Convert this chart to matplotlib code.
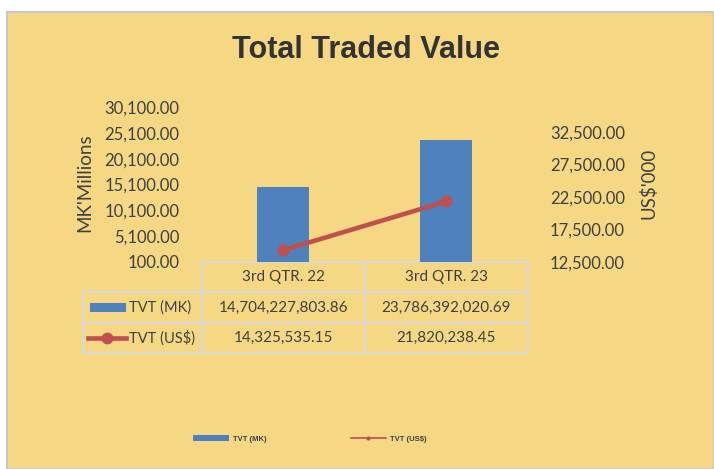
import matplotlib as mpl
mpl.use('Agg')
import matplotlib.pyplot as plt
from matplotlib.patches import Rectangle, Patch
from matplotlib.lines import Line2D

# data
quarters = ['3rd QTR. 22', '3rd QTR. 23']
tvt_mk = [14704227803.86, 23786392020.69]   # MK
tvt_usd = [14325535.15, 21820238.45]         # US$
series_names = ['TVT (MK)', 'TVT (US$)']

mk_millions = [v / 1e6 for v in tvt_mk]
usd_thousands = [v / 1e3 for v in tvt_usd]

left_ticks = [100, 5100, 10100, 15100, 20100, 25100, 30100]
right_ticks = [12500, 17500, 22500, 27500, 32500]

blue = '#4F81BD'
red = '#C0504D'
bg = '#F5D784'
txt = '#404040'
grid = '#D9D9D9'

plt.rcParams['font.family'] = ['Lato', 'DejaVu Sans']

W, H = 714, 469
fig = plt.figure(figsize=(W / 100, H / 100), dpi=100)
fig.patch.set_facecolor('white')

# chart area panel
fig.patches.append(Rectangle((7 / W, 0), 1 - 7 / W, 1 - 12 / H, transform=fig.transFigure,
                             facecolor=bg, edgecolor='#C8C8C8', linewidth=1.5, zorder=-5))

# plot area in pixels
x0, x1, ytop, ybot = 201.7, 527.7, 107, 262
ax = fig.add_axes([x0 / W, 1 - ybot / H, (x1 - x0) / W, (ybot - ytop) / H])
ax.patch.set_alpha(0)

xs = list(range(len(quarters)))
ax.bar(xs, mk_millions, width=0.32, color=blue, zorder=2)
ax.set_xlim(-0.5, len(quarters) - 0.5)
ax.set_ylim(left_ticks[0], left_ticks[-1])
ax.set_yticks(left_ticks)
ax.set_yticklabels(['{:,.2f}'.format(t) for t in left_ticks])
ax.set_xticks([])
ax.tick_params(axis='y', length=0, pad=16, labelsize=12, labelcolor=txt)
for s in ax.spines.values():
    s.set_visible(False)

ax2 = ax.twinx()
ax2.plot(xs, usd_thousands, color=red, linewidth=3.3, marker='o', markersize=7.5, zorder=3)
ax2.set_ylim(12500, 12500 + (ybot - ytop) / 0.0065)
ax2.set_yticks(right_ticks)
ax2.set_yticklabels(['{:,.2f}'.format(t) for t in right_ticks])
ax2.tick_params(axis='y', length=0, pad=16, labelsize=12, labelcolor=txt)
for s in ax2.spines.values():
    s.set_visible(False)

# data table under the plot
cell_text = [[series_names[0]] + ['{:,.2f}'.format(v) for v in tvt_mk],
             [series_names[1]] + ['{:,.2f}'.format(v) for v in tvt_usd]]
tl = 83.3
tbot = 353
lab_w = (x0 - tl) / (x1 - x0)
tbl = ax.table(cellText=cell_text, colLabels=[''] + quarters,
               colWidths=[lab_w, 0.5, 0.5], cellLoc='center',
               bbox=[(tl - x0) / (x1 - x0), -(tbot - ybot) / (ybot - ytop),
                     (x1 - tl) / (x1 - x0), (tbot - ybot) / (ybot - ytop)])
tbl.auto_set_font_size(False)
for (r, c), cell in tbl.get_celld().items():
    cell.set_facecolor('none')
    cell.set_edgecolor(grid)
    cell.set_linewidth(1.5)
    cell.get_text().set_fontsize(11)
    cell.get_text().set_color(txt)
    if c == 0:
        cell.get_text().set_horizontalalignment('left')
        cell.get_text().set_fontsize(10.5)
        cell.PAD = (129 - tl) / (x0 - tl)
        if r == 0:
            cell.visible_edges = ''

# legend keys inside the table row labels
def fx(px):
    return (px - x0) / (x1 - x0)

def fy(py):
    return (ybot - py) / (ybot - ytop)

ax.add_patch(Rectangle((fx(90), fy(312)), fx(126) - fx(90), fy(303) - fy(312),
                       transform=ax.transAxes, facecolor=blue, clip_on=False, zorder=4))
ax.add_line(Line2D([fx(88), fx(126)], [fy(338.3)] * 2, transform=ax.transAxes,
                   color=red, linewidth=3.3, clip_on=False, zorder=4))
ax.add_line(Line2D([fx(107.5)], [fy(338.3)], transform=ax.transAxes,
                   color=red, marker='o', markersize=7.5, clip_on=False, zorder=4))

# titles and axis labels
fig.text(366 / W, 1 - 50 / H, 'Total Traded Value', ha='center', va='center',
         fontsize=22, fontweight='bold', color='#333333',
         family=['Liberation Sans', 'DejaVu Sans'])
fig.text(85 / W, 1 - 182.5 / H, "MK'Millions", rotation=90, ha='center', va='center',
         fontsize=13.5, color=txt)
fig.text(648 / W, 1 - 183 / H, "US$'000", rotation=90, ha='center', va='center',
         fontsize=13.5, color=txt)

# bottom legend
handles = [Patch(facecolor=blue, label=series_names[0]),
           Line2D([], [], color=red, linewidth=1.2, marker='o', markersize=2,
                  label=series_names[1])]
fig.legend(handles=handles, loc='center', bbox_to_anchor=(310 / W, 1 - 439 / H), ncol=2,
           frameon=False, handlelength=4.7, handletextpad=0.5, columnspacing=11,
           prop={'family': 'Liberation Sans', 'weight': 'bold', 'size': 5.5},
           labelcolor='#404040')

fig.savefig('out.png', dpi=100, facecolor=fig.get_facecolor())
